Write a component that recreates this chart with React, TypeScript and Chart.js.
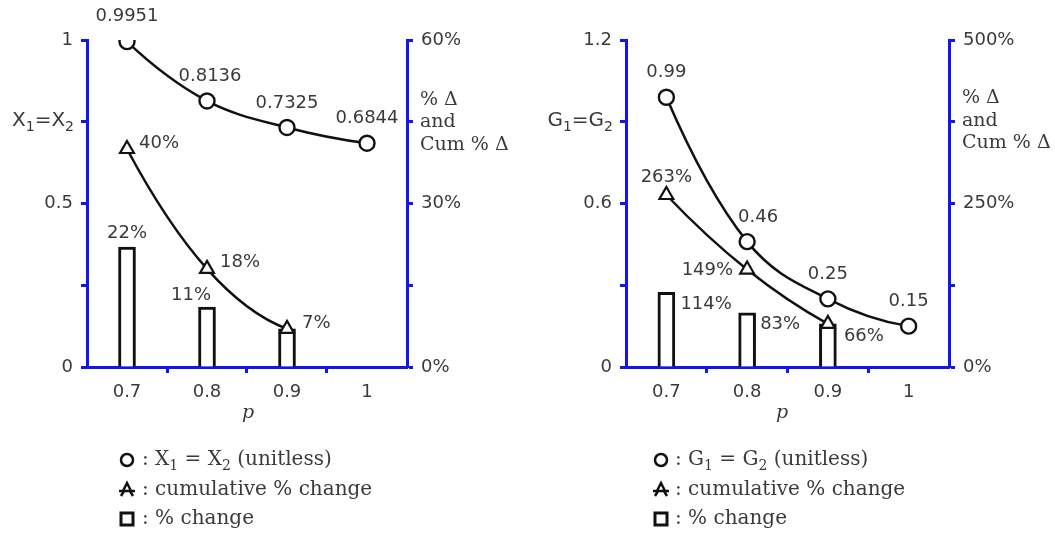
import React, { useEffect, useRef } from "react";
import { Chart, registerables } from "chart.js";

Chart.register(...registerables);

// ---------- data ----------
const pValues = [0.7, 0.8, 0.9, 1.0];
const pStepValues = [0.7, 0.8, 0.9];
const xTickLabels = [0.7, 0.8, 0.9, 1];

// left panel: X1 = X2
const xEqualValues = [0.9951, 0.8136, 0.7325, 0.6844];
const xCumulativePct = [40, 18, 7];
const xPctChange = [22, 11, 7];
const xLeftTickLabels = [0, 0.5, 1];
const xRightTickLabels = [0, 30, 60];

// right panel: G1 = G2
const gEqualValues = [0.99, 0.46, 0.25, 0.15];
const gCumulativePct = [263, 149, 66];
const gPctChange = [114, 83, 66];
const gLeftTickLabels = [0, 0.6, 1.2];
const gRightTickLabels = [0, 250, 500];

// ---------- styles ----------
const BLUE = "#1414f0";
const INK = "#111111";
const TEXT = "#3a3a3a";
const SANS = "'DejaVu Sans'";
const SERIF = "'DejaVu Serif'";

type Part = { t: string; sub?: boolean };
type Off = [number, number, CanvasTextAlign];

interface Spec {
  width: number;
  areaLeft: number;
  areaRight: number;
  values: number[];
  cum: number[];
  pct: number[];
  leftMax: number;
  leftStep: number;
  leftLabels: number[];
  rightMax: number;
  rightStep: number;
  rightLabels: number[];
  valueOffsets: Off[];
  cumOffsets: Off[];
  pctOffsets: (Off | null)[];
  yTitle: Part[];
  yTitleX: number;
  rightTitleX: number;
  rightTitleY: number[];
  pX: number;
  legendSymX: number;
  legendTextX: number;
  legendFirst: Part[];
}

const near = (a: number, list: number[]) => list.some((b) => Math.abs(a - b) < 1e-6);

function drawRich(ctx: CanvasRenderingContext2D, parts: Part[], x: number, y: number, align: "left" | "right", size: number, family: string) {
  const widths = parts.map((p) => {
    ctx.font = `${p.sub ? Math.round(size * 0.72) : size}px ${family}`;
    return ctx.measureText(p.t).width;
  });
  const total = widths.reduce((a, b) => a + b, 0);
  let cx = align === "right" ? x - total : x;
  ctx.textAlign = "left";
  ctx.textBaseline = "middle";
  parts.forEach((p, i) => {
    ctx.font = `${p.sub ? Math.round(size * 0.72) : size}px ${family}`;
    ctx.fillText(p.t, cx, y + (p.sub ? size * 0.32 : 0));
    cx += widths[i];
  });
}

// smooth curve (cubic Hermite, parabolic end tangents) through the points the library placed
function drawSmooth(ctx: CanvasRenderingContext2D, pts: { x: number; y: number }[]) {
  const n = pts.length;
  if (n < 2) return;
  const m: number[] = [];
  for (let i = 0; i < n; i++) {
    if (n === 2) {
      m.push((pts[1].y - pts[0].y) / (pts[1].x - pts[0].x));
    } else if (i === 0) {
      const h = (pts[2].x - pts[0].x) / 2;
      m.push((-3 * pts[0].y + 4 * pts[1].y - pts[2].y) / (2 * h));
    } else if (i === n - 1) {
      const h = (pts[n - 1].x - pts[n - 3].x) / 2;
      m.push((pts[n - 3].y - 4 * pts[n - 2].y + 3 * pts[n - 1].y) / (2 * h));
    } else {
      m.push((pts[i + 1].y - pts[i - 1].y) / (pts[i + 1].x - pts[i - 1].x));
    }
  }
  ctx.beginPath();
  ctx.moveTo(pts[0].x, pts[0].y);
  for (let i = 0; i < n - 1; i++) {
    const dx = pts[i + 1].x - pts[i].x;
    ctx.bezierCurveTo(
      pts[i].x + dx / 3, pts[i].y + (m[i] * dx) / 3,
      pts[i + 1].x - dx / 3, pts[i + 1].y - (m[i + 1] * dx) / 3,
      pts[i + 1].x, pts[i + 1].y
    );
  }
  ctx.stroke();
}

function makePlugin(spec: Spec) {
  return {
    id: "annotations",
    beforeDatasetDraw(chart: any, args: any) {
      const ds = chart.data.datasets[args.index];
      if (ds.type !== "line") return;
      const ctx = chart.ctx;
      ctx.save();
      ctx.strokeStyle = INK;
      ctx.lineWidth = 2.5;
      ctx.lineCap = "round";
      drawSmooth(ctx, args.meta.data.map((e: any) => ({ x: e.x, y: e.y })));
      ctx.restore();
    },
    afterDatasetsDraw(chart: any) {
      const { ctx, scales } = chart;
      const x = scales.x, y = scales.y, y1 = scales.y1;
      ctx.save();
      ctx.fillStyle = TEXT;
      ctx.font = `18px ${SANS}`;
      ctx.textBaseline = "middle";
      spec.values.forEach((v, i) => {
        const o = spec.valueOffsets[i];
        ctx.textAlign = o[2];
        ctx.fillText(String(v), x.getPixelForValue(pValues[i]) + o[0], y.getPixelForValue(v) + o[1]);
      });
      spec.cum.forEach((v, i) => {
        const o = spec.cumOffsets[i];
        ctx.textAlign = o[2];
        ctx.fillText(`${v}%`, x.getPixelForValue(pStepValues[i]) + o[0], y1.getPixelForValue(v) + o[1]);
      });
      spec.pct.forEach((v, i) => {
        const o = spec.pctOffsets[i];
        if (!o) return;
        ctx.textAlign = o[2];
        ctx.fillText(`${v}%`, x.getPixelForValue(pStepValues[i]) + o[0], y1.getPixelForValue(v) + o[1]);
      });
      ctx.restore();
    },
    afterDraw(chart: any) {
      const { ctx } = chart;
      ctx.save();
      ctx.fillStyle = TEXT;
      // left axis title
      drawRich(ctx, spec.yTitle, spec.yTitleX, 121, "right", 20, SANS);
      // right axis title
      ctx.font = `19px ${SERIF}`;
      ctx.textAlign = "left";
      ctx.textBaseline = "middle";
      ["% Δ", "and", "Cum % Δ"].forEach((t, i) => ctx.fillText(t, spec.rightTitleX, spec.rightTitleY[i]));
      // x title
      ctx.font = `italic 19px ${SERIF}`;
      ctx.textAlign = "center";
      ctx.fillText("p", spec.pX, 413);
      // legend
      const rows = [460, 490, 519];
      const sx = spec.legendSymX;
      ctx.strokeStyle = INK;
      ctx.lineWidth = 2.5;
      ctx.beginPath();
      ctx.arc(sx, rows[0], 6, 0, Math.PI * 2);
      ctx.stroke();
      // star-like marker
      ctx.beginPath();
      ctx.moveTo(sx, rows[1] - 7);
      ctx.lineTo(sx + 4, rows[1] + 1);
      ctx.lineTo(sx - 4, rows[1] + 1);
      ctx.closePath();
      ctx.moveTo(sx - 8, rows[1] + 1);
      ctx.lineTo(sx + 8, rows[1] + 1);
      ctx.moveTo(sx - 3, rows[1] + 1);
      ctx.lineTo(sx - 6, rows[1] + 6);
      ctx.moveTo(sx + 3, rows[1] + 1);
      ctx.lineTo(sx + 6, rows[1] + 6);
      ctx.stroke();
      ctx.lineWidth = 3;
      ctx.strokeRect(sx - 6, rows[2] - 6, 12, 12);
      drawRich(ctx, spec.legendFirst, spec.legendTextX, rows[0], "left", 20, SERIF);
      drawRich(ctx, [{ t: ": cumulative % change" }], spec.legendTextX, rows[1], "left", 20, SERIF);
      drawRich(ctx, [{ t: ": % change" }], spec.legendTextX, rows[2], "left", 20, SERIF);
      ctx.restore();
    },
  };
}

function makeConfig(spec: Spec): any {
  const tickFont = { family: "DejaVu Sans", size: 18 };
  return {
    type: "line",
    data: {
      datasets: [
        {
          type: "line",
          data: spec.values.map((v, i) => ({ x: pValues[i], y: v })),
          yAxisID: "y",
          showLine: false,
          borderColor: INK,
          pointStyle: "circle",
          pointRadius: 7.5,
          pointBorderWidth: 2.4,
          pointBorderColor: INK,
          pointBackgroundColor: "#ffffff",
          order: 0,
        },
        {
          type: "line",
          data: spec.cum.map((v, i) => ({ x: pStepValues[i], y: v })),
          yAxisID: "y1",
          showLine: false,
          borderColor: INK,
          pointStyle: "triangle",
          pointRadius: 8,
          pointBorderWidth: 2.2,
          pointBorderColor: INK,
          pointBackgroundColor: "#ffffff",
          order: 1,
        },
        {
          type: "bar",
          data: spec.pct.map((v, i) => ({ x: pStepValues[i], y: v })),
          yAxisID: "y1",
          backgroundColor: "#ffffff",
          borderColor: INK,
          borderWidth: 3,
          borderSkipped: "start",
          barThickness: 17,
          order: 2,
        },
      ],
    },
    options: {
      responsive: false,
      animation: false,
      devicePixelRatio: 1,
      layout: { padding: { top: 40, left: 0, right: 0, bottom: 0 } },
      plugins: { legend: { display: false }, tooltip: { enabled: false } },
      scales: {
        x: {
          type: "linear",
          min: 0.65,
          max: 1.05,
          offset: false,
          afterFit: (s: any) => { s.height = 166; },
          border: { display: true, color: BLUE, width: 3 },
          grid: {
            offset: false,
            drawOnChartArea: false,
            drawTicks: true,
            tickLength: 6,
            tickWidth: 3,
            tickColor: (c: any) => (c.tick && near(c.tick.value, [0.75, 0.85, 0.95]) ? BLUE : "rgba(0,0,0,0)"),
          },
          ticks: {
            stepSize: 0.05,
            autoSkip: false,
            maxRotation: 0,
            padding: 9,
            color: TEXT,
            font: tickFont,
            callback: (v: number) => (near(v, xTickLabels) ? String(+v.toFixed(2)) : ""),
          },
        },
        y: {
          type: "linear",
          position: "left",
          min: 0,
          max: spec.leftMax,
          afterFit: (s: any) => { s.width = spec.areaLeft; },
          border: { display: true, color: BLUE, width: 3 },
          grid: { drawOnChartArea: false, drawTicks: true, tickLength: 6, tickWidth: 3, tickColor: BLUE },
          ticks: {
            stepSize: spec.leftStep,
            autoSkip: false,
            padding: 8,
            color: TEXT,
            font: tickFont,
            callback: (v: number) => (near(v, spec.leftLabels) ? String(+v.toFixed(2)) : ""),
          },
        },
        y1: {
          type: "linear",
          position: "right",
          min: 0,
          max: spec.rightMax,
          afterFit: (s: any) => { s.width = spec.width - spec.areaRight; },
          border: { display: true, color: BLUE, width: 3 },
          grid: { drawOnChartArea: false, drawTicks: true, tickLength: 6, tickWidth: 3, tickColor: BLUE },
          ticks: {
            stepSize: spec.rightStep,
            autoSkip: false,
            padding: 8,
            color: TEXT,
            font: tickFont,
            callback: (v: number) => (near(v, spec.rightLabels) ? `${Math.round(v)}%` : ""),
          },
        },
      },
    },
    plugins: [makePlugin(spec)],
  };
}

const leftSpec: Spec = {
  width: 527,
  areaLeft: 87,
  areaRight: 407,
  values: xEqualValues,
  cum: xCumulativePct,
  pct: xPctChange,
  leftMax: 1,
  leftStep: 0.25,
  leftLabels: xLeftTickLabels,
  rightMax: 60,
  rightStep: 15,
  rightLabels: xRightTickLabels,
  valueOffsets: [[0, -25, "center"], [3, -25, "center"], [0, -24, "center"], [0, -25, "center"]],
  cumOffsets: [[12, -6, "left"], [13, -7, "left"], [15, -6, "left"]],
  pctOffsets: [[0, -14, "center"], [-16, -12, "center"], null],
  yTitle: [{ t: "X" }, { t: "1", sub: true }, { t: "=X" }, { t: "2", sub: true }],
  yTitleX: 74,
  rightTitleX: 420,
  rightTitleY: [100, 122, 145],
  pX: 248,
  legendSymX: 127,
  legendTextX: 142,
  legendFirst: [{ t: ": X" }, { t: "1", sub: true }, { t: " = X" }, { t: "2", sub: true }, { t: " (unitless)" }],
};

const rightSpec: Spec = {
  width: 528,
  areaLeft: 99,
  areaRight: 422,
  values: gEqualValues,
  cum: gCumulativePct,
  pct: gPctChange,
  leftMax: 1.2,
  leftStep: 0.3,
  leftLabels: gLeftTickLabels,
  rightMax: 500,
  rightStep: 125,
  rightLabels: gRightTickLabels,
  valueOffsets: [[0, -25, "center"], [11, -24, "center"], [0, -25, "center"], [0, -25, "center"]],
  cumOffsets: [[0, -18, "center"], [-14, 1, "right"], [16, 12, "left"]],
  pctOffsets: [[14, 12, "left"], [13, 12, "left"], null],
  yTitle: [{ t: "G" }, { t: "1", sub: true }, { t: "=G" }, { t: "2", sub: true }],
  yTitleX: 86,
  rightTitleX: 435,
  rightTitleY: [98, 121, 143],
  pX: 255,
  legendSymX: 134,
  legendTextX: 148,
  legendFirst: [{ t: ": G" }, { t: "1", sub: true }, { t: " = G" }, { t: "2", sub: true }, { t: " (unitless)" }],
};

function Panel({ spec }: { spec: Spec }) {
  const ref = useRef<HTMLCanvasElement | null>(null);
  useEffect(() => {
    if (!ref.current) return;
    const chart = new Chart(ref.current, makeConfig(spec));
    return () => chart.destroy();
  }, [spec]);
  return <canvas ref={ref} width={spec.width} height={533} style={{ width: spec.width, height: 533, display: "block" }} />;
}

export default function App() {
  return (
    <div style={{ position: "absolute", left: 0, top: 0, width: 1055, height: 533, display: "flex", background: "#ffffff" }}>
      <Panel spec={leftSpec} />
      <Panel spec={rightSpec} />
    </div>
  );
}
